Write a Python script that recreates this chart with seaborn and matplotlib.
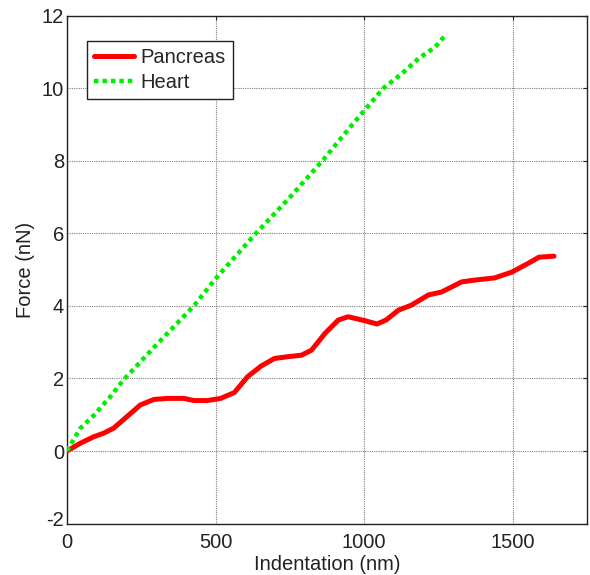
import matplotlib
matplotlib.use("Agg")
import matplotlib.pyplot as plt
import matplotlib.transforms as mtransforms
import seaborn as sns
import pandas as pd

# Pancreas curve (Indentation nm, Force nN)
pancreas_x = [0, 44, 89, 123, 157, 202, 247, 292, 337, 393, 427, 472, 517, 563, 608, 653,
              698, 744, 789, 823, 868, 913, 946, 1003, 1043, 1074, 1115, 1159, 1216, 1260,
              1328, 1372, 1439, 1497, 1554, 1588, 1639]
pancreas_y = [0.0, 0.21, 0.39, 0.49, 0.63, 0.95, 1.27, 1.42, 1.45, 1.45, 1.39, 1.39, 1.45,
              1.61, 2.05, 2.34, 2.55, 2.60, 2.64, 2.78, 3.24, 3.61, 3.70, 3.59, 3.50, 3.61,
              3.88, 4.02, 4.30, 4.38, 4.66, 4.71, 4.77, 4.93, 5.18, 5.34, 5.37]

# Heart curve
heart_x = [0, 44, 90, 146, 190, 300, 427, 500, 636, 750, 865, 930, 1002, 1065, 1127, 1185,
           1239, 1273]
heart_y = [0.0, 0.62, 0.98, 1.50, 1.96, 2.92, 4.0, 4.75, 6.0, 6.99, 8.05, 8.7, 9.4, 10.0,
           10.4, 10.83, 11.13, 11.46]

x_ticks = [0, 500, 1000, 1500]
y_ticks = [-2, 0, 2, 4, 6, 8, 10, 12]

sns.set_style("white")
plt.rcParams['font.family'] = ['Liberation Sans', 'DejaVu Sans']

FS = 14.5
TXT = "#222222"

fig = plt.figure(figsize=(5.9, 5.75), dpi=100)
ax = fig.add_axes([0.1136, 0.0894, 0.995 - 0.1136, 0.973 - 0.0894])

df_p = pd.DataFrame({"x": pancreas_x, "y": pancreas_y})
df_h = pd.DataFrame({"x": heart_x, "y": heart_y})

sns.lineplot(data=df_p, x="x", y="y", ax=ax, color="#ff0000", linewidth=3.6,
             label="Pancreas", sort=False, zorder=3)
sns.lineplot(data=df_h, x="x", y="y", ax=ax, color="#00ee00", linewidth=3.2,
             linestyle=(0, (1, 0.9)), label="Heart", sort=False, zorder=3)

ax.set_xlim(0, 1750)
ax.set_ylim(-2, 12)
ax.set_xticks(x_ticks)
ax.set_yticks(y_ticks)
ax.set_xticklabels([str(t) for t in x_ticks])
ax.set_yticklabels([str(t) for t in y_ticks])

ax.grid(True, color="#808080", linestyle=(0, (1, 1)), linewidth=0.8)
ax.tick_params(direction="in", top=True, right=True, length=3, width=0.8,
               labelsize=FS, colors=TXT)
ax.tick_params(axis="y", pad=2)
ax.tick_params(axis="x", pad=7)
# nudge the "-2" label up a few pixels so it just clears the "0" x tick label
lbl = ax.yaxis.get_major_ticks()[0].label1
lbl.set_transform(lbl.get_transform() +
                  mtransforms.ScaledTranslation(0, 5 / 100, fig.dpi_scale_trans))
for s in ax.spines.values():
    s.set_color(TXT)
    s.set_linewidth(1.0)
    s.set_visible(True)

ax.set_xlabel("Indentation (nm)", fontsize=FS, color=TXT, labelpad=2)
ax.set_ylabel("Force (nN)", fontsize=FS, color=TXT, labelpad=5)

leg = ax.legend(loc="upper left", bbox_to_anchor=(0.0385, 0.9497), fontsize=FS,
                frameon=True, fancybox=False, edgecolor=TXT, framealpha=1,
                handlelength=2.0, handletextpad=0.3, borderpad=0.35,
                labelspacing=0.3, borderaxespad=0)
leg.get_frame().set_linewidth(1.0)

fig.savefig("out.png", dpi=100)
